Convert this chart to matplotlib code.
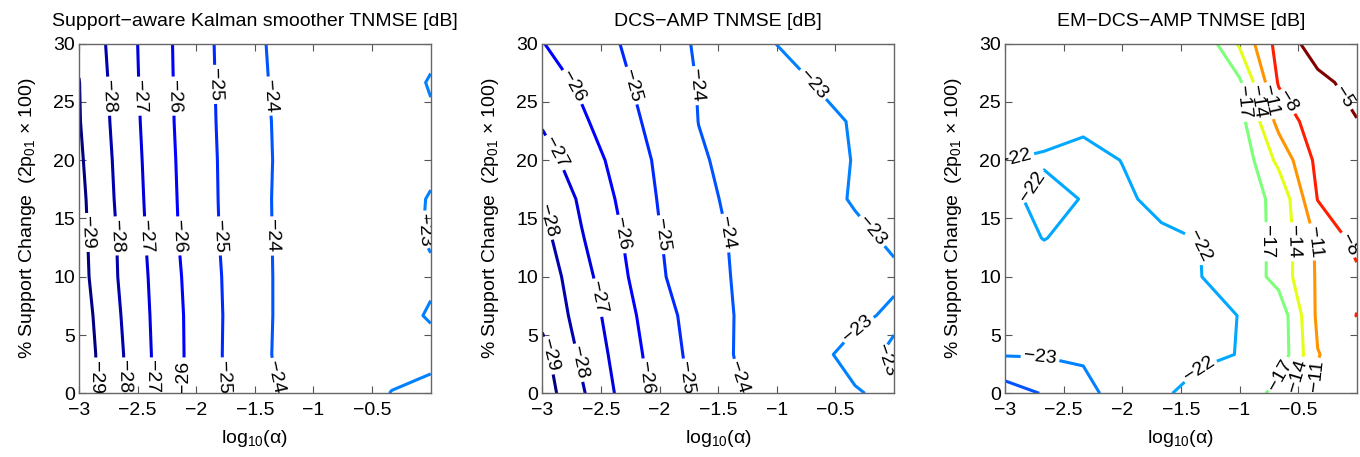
import numpy as np
import matplotlib
matplotlib.use('Agg')
from matplotlib import pyplot as plt
from matplotlib.colors import Normalize
from matplotlib.ticker import FuncFormatter

plt.rcParams['font.family'] = ['Liberation Sans', 'DejaVu Sans']
plt.rcParams['mathtext.default'] = 'regular'

# grid of the simulation (log10(alpha) across, % support change up)
LOG_ALPHA = [-3.0, -2.667, -2.333, -2.0, -1.667, -1.333, -1.0, -0.667, -0.333, 0.0]
SUPPORT_CHANGE = [0.0, 3.33, 6.67, 10.0, 13.33, 16.67, 20.0, 23.33, 26.67, 30.0]

# TNMSE [dB], one row per support change value
KALMAN_DB = [
    [-29.6, -28.22, -26.80, -25.63, -24.73, -24.05, -23.68, -23.33, -22.98, -22.8],
    [-29.6, -28.2, -26.79, -25.64, -24.68, -23.95, -23.6, -23.4, -23.25, -23.2],
    [-29.5, -28.1, -26.75, -25.64, -24.7, -23.97, -23.6, -23.4, -23.2, -22.95],
    [-29.35, -27.99, -26.7, -25.58, -24.69, -23.97, -23.6, -23.4, -23.2, -23.08],
    [-29.3, -27.95, -26.6, -25.5, -24.65, -23.96, -23.6, -23.4, -23.2, -22.95],
    [-29.25, -27.86, -26.55, -25.47, -24.63, -23.95, -23.6, -23.4, -23.2, -22.97],
    [-29.15, -27.8, -26.5, -25.45, -24.62, -23.97, -23.6, -23.4, -23.2, -23.1],
    [-29.05, -27.72, -26.45, -25.41, -24.6, -23.95, -23.6, -23.4, -23.2, -23.05],
    [-29.02, -27.65, -26.42, -25.4, -24.57, -23.9, -23.6, -23.4, -23.2, -22.97],
    [-28.85, -27.6, -26.4, -25.38, -24.55, -23.85, -23.55, -23.4, -23.2, -23.1],
]

DCS_AMP_DB = [
    [-29.5, -28.13, -26.79, -25.65, -24.76, -24.07, -23.7, -23.38, -23.05, -22.85],
    [-29.26, -27.84, -26.61, -25.53, -24.64, -23.92, -23.54, -23.16, -22.8, -23.1],
    [-28.8, -27.6, -26.43, -25.38, -24.56, -23.94, -23.67, -23.4, -23.12, -22.9],
    [-28.63, -27.35, -26.22, -25.11, -24.45, -23.9, -23.6, -23.4, -23.25, -23.1],
    [-28.3, -27.07, -26.05, -25.04, -24.34, -23.88, -23.63, -23.39, -23.14, -22.9],
    [-27.97, -26.84, -25.86, -24.93, -24.22, -23.8, -23.51, -23.23, -22.94, -22.7],
    [-27.38, -26.52, -25.66, -24.83, -24.09, -23.77, -23.5, -23.24, -22.97, -22.7],
    [-26.9, -26.15, -25.39, -24.66, -23.99, -23.73, -23.47, -23.2, -22.94, -22.7],
    [-26.5, -25.83, -25.17, -24.54, -23.96, -23.63, -23.3, -22.97, -22.75, -22.6],
    [-26.03, -25.52, -24.99, -24.43, -23.89, -23.44, -22.99, -22.8, -22.65, -22.55],
]

EM_DCS_AMP_DB = [
    [-24.5, -23.93, -23.24, -22.67, -22.16, -21.6, -19.5, -15.8, -10.5, -9.0],
    [-22.94, -22.93, -22.9, -22.6, -22.4, -22.2, -21.97, -19.1, -11.1, -9.5],
    [-22.7, -22.6, -22.5, -22.45, -22.4, -22.3, -21.98, -19.1, -10.44, -7.95],
    [-22.6, -22.5, -22.45, -22.4, -22.3, -22.1, -19.36, -15.9, -10.6, -8.6],
    [-22.4, -21.97, -22.3, -22.25, -22.15, -21.97, -19.24, -16.0, -10.47, -7.0],
    [-22.4, -21.55, -22.06, -22.15, -21.77, -19.6, -18.0, -16.5, -7.9, -6.5],
    [-21.99, -22.15, -22.3, -21.98, -21.2, -20.3, -19.2, -13.24, -7.2, -5.8],
    [-21.5, -21.5, -21.8, -21.0, -20.3, -19.2, -18.2, -10.06, -6.2, -5.1],
    [-21.3, -21.2, -21.0, -20.6, -19.9, -18.9, -17.5, -7.75, -5.78, -4.0],
    [-21.2, -21.1, -21.0, -20.8, -20.3, -19.5, -13.6, -6.92, -3.5, -2.5],
]

KALMAN_LEVELS = [-29, -28, -27, -26, -25, -24, -23]
DCS_AMP_LEVELS = [-29, -28, -27, -26, -25, -24, -23]
EM_DCS_AMP_LEVELS = [-24, -23, -22, -17, -14, -11, -8, -5]

TITLES = ['Support\u2212aware Kalman smoother TNMSE [dB]',
          'DCS\u2212AMP TNMSE [dB]',
          'EM\u2212DCS\u2212AMP TNMSE [dB]']

# where the inline labels sit (level -> points near the line)
KALMAN_SPOTS = {
    -29: [(-2.93, 13.8), (-2.85, 1.4)],
    -28: [(-2.74, 25.5), (-2.69, 13.5), (-2.62, 1.4)],
    -27: [(-2.48, 25.5), (-2.44, 13.5), (-2.38, 1.4)],
    -26: [(-2.2, 25.5), (-2.16, 13.5), (-2.11, 1.4)],
    -25: [(-1.87, 26.5), (-1.81, 13.5), (-1.79, 1.4)],
    -24: [(-1.38, 25.5), (-1.34, 13.5), (-1.32, 1.4)],
    -23: [(-0.05, 14.0)],
}
DCS_AMP_SPOTS = {
    -29: [(-2.97, 3.2)],
    -28: [(-2.96, 14.8), (-2.7, 2.6)],
    -27: [(-2.9, 20.6), (-2.53, 8.2)],
    -26: [(-2.72, 26.4), (-2.36, 13.6), (-2.14, 1.3)],
    -25: [(-2.24, 26.4), (-1.99, 13.6), (-1.79, 1.3)],
    -24: [(-1.7, 26.4), (-1.5, 13.6), (-1.33, 1.3)],
    -23: [(-0.72, 26.3), (-0.2, 13.8), (-0.3, 5.4), (-0.05, 3.0)],
}
EM_DCS_AMP_SPOTS = {
    -23: [(-2.7, 3.1)],
    -22: [(-2.9, 19.6), (-2.8, 18.0), (-1.32, 12.8), (-1.3, 1.6)],
    -17: [(-0.93, 25.0), (-0.73, 13.0), (-0.64, 1.5)],
    -14: [(-0.86, 25.0), (-0.55, 13.0), (-0.5, 1.5)],
    -11: [(-0.79, 25.0), (-0.38, 13.0), (-0.37, 1.5)],
    -8: [(-0.66, 24.6), (-0.1, 12.6)],
    -5: [(-0.14, 25.2)],
}

JET = plt.get_cmap('jet')
NORM = Normalize(vmin=-29, vmax=-5)
FS = 14


def fmt_level(v):
    return ('%d' % v).replace('-', '\u2212')


def fmt_tick(v, pos):
    return ('%g' % v).replace('-', '\u2212')


def draw_panel(ax, z, levels, spots, title):
    z = np.array(z)
    # one contour set per level so each label lands on its own line
    for level in levels:
        cs = ax.contour(LOG_ALPHA, SUPPORT_CHANGE, z, levels=[level],
                        colors=[JET(NORM(level))], linewidths=2.2,
                        linestyles='solid')
        if level in spots:
            ax.clabel(cs, manual=spots[level], inline=True,
                      inline_spacing=3, fontsize=FS, colors='k',
                      fmt=fmt_level)
    ax.set_xlim(-3, 0)
    ax.set_ylim(0, 30)
    ax.set_xticks([-3, -2.5, -2, -1.5, -1, -0.5])
    ax.set_yticks([0, 5, 10, 15, 20, 25, 30])
    ax.xaxis.set_major_formatter(FuncFormatter(fmt_tick))
    ax.yaxis.set_major_formatter(FuncFormatter(fmt_tick))
    ax.tick_params(direction='in', top=True, right=True, length=5,
                   width=0.8, color='#555555', labelsize=FS, pad=3)
    ax.tick_params(axis='x', pad=6)
    for s in ax.spines.values():
        s.set_color('#666666')
        s.set_linewidth(1.0)
    ax.set_title(title, fontsize=FS, pad=13)
    ax.set_xlabel('log$_{10}$(\u03b1)', fontsize=FS, labelpad=7)
    ax.set_ylabel('% Support Change  (2p$_{01}$ \u00d7 100)', fontsize=FS,
                  labelpad=11)


def main():
    fig = plt.figure(figsize=(13.6, 4.57), dpi=100)
    lefts = [0.0581, 0.3988, 0.739]
    data = [(KALMAN_DB, KALMAN_LEVELS, KALMAN_SPOTS),
            (DCS_AMP_DB, DCS_AMP_LEVELS, DCS_AMP_SPOTS),
            (EM_DCS_AMP_DB, EM_DCS_AMP_LEVELS, EM_DCS_AMP_SPOTS)]
    for left, (z, levels, spots), title in zip(lefts, data, TITLES):
        ax = fig.add_axes([left, 0.1394, 0.2586, 0.765])
        ax.set_xlim(-3, 0)
        ax.set_ylim(0, 30)
        draw_panel(ax, z, levels, spots, title)
    fig.savefig('out.png', dpi=100)


if __name__ == '__main__':
    main()
